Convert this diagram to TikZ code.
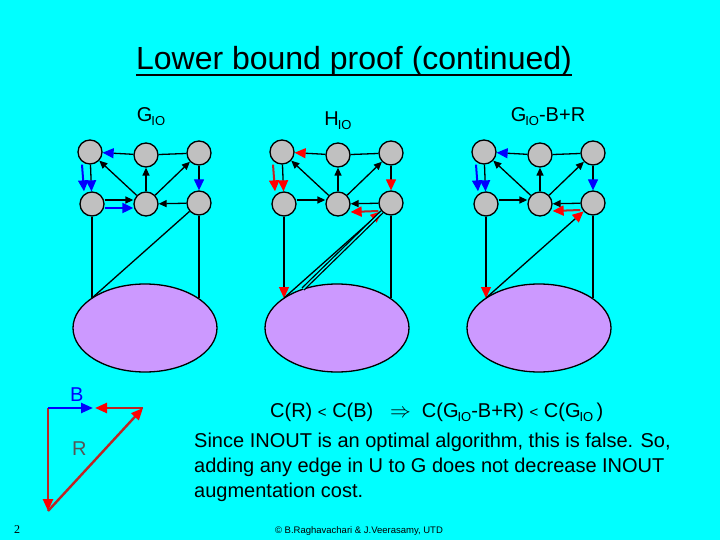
\documentclass[tikz,border=0pt]{standalone}
\usepackage{fontspec}
\setmainfont{Liberation Sans}
\newfontfamily\seriff{Liberation Serif}
\usetikzlibrary{arrows.meta,shapes.geometric,calc}
\definecolor{bgcyan}{RGB}{0,255,255}
\definecolor{nodegray}{RGB}{192,192,192}
\definecolor{lav}{RGB}{204,153,255}
\definecolor{darkred}{RGB}{190,35,35}
\definecolor{arrblue}{RGB}{0,0,255}
\definecolor{arrred}{RGB}{255,0,0}
\definecolor{rlabel}{RGB}{85,85,85}
\newcommand\subIO{\kern-1pt\raisebox{-0.2em}{\fontsize{13}{13}\selectfont IO}}
\tikzset{
 vtx/.style={circle,draw=black,fill=nodegray,line width=1.3pt,minimum size=24pt,inner sep=0pt},
 blob/.style={ellipse,draw=black,fill=lav,line width=1.3pt,minimum width=144pt,minimum height=88pt,inner sep=0pt},
 edge/.style={draw=black,line width=1.3pt},
 barr/.style={edge,-{Triangle[length=8pt,width=7pt]}},
 headblue/.style={edge,-{Triangle[length=11pt,width=10pt,color=arrblue]}},
 headred/.style={edge,-{Triangle[length=11pt,width=10pt,color=arrred]}},
 bluearr/.style={draw=arrblue,line width=2pt,-{Triangle[length=11pt,width=10pt]}},
 redarr/.style={draw=darkred,line width=2pt,-{Triangle[length=11pt,width=10pt,color=arrred]}},
 lblue/.style={draw=arrblue,line width=2.4pt,-{Triangle[length=12pt,width=10pt]}},
 lred/.style={draw=darkred,line width=2.4pt,-{Triangle[length=12pt,width=10pt,color=arrred]}},
 txt/.style={inner sep=0pt,font=\fontsize{20}{25}\selectfont},
}
\newcommand\gbase[2]{%
 \begin{scope}[xshift=#2pt]
  \node[blob] (#1E) at (145,328) {};
  \node[vtx] (#1TL) at (90,152) {};
  \node[vtx] (#1TM) at (146,155) {};
  \node[vtx] (#1TR) at (199,153) {};
  \node[vtx] (#1BL) at (92,204) {};
  \node[vtx] (#1BM) at (146,204) {};
  \node[vtx] (#1BR) at (199,203) {};
  \coordinate (#1eL) at (92,298);
  \coordinate (#1eR) at (199,298);
  \coordinate (#1eD) at (111,289);
 \end{scope}
 \draw[barr] (#1BM) -- (#1TL);
 \draw[barr] (#1BM) -- (#1TM);
 \draw[barr] (#1BM) -- (#1TR);
 \draw[edge] (#1TM) -- (#1TR);
 \draw[barr] ([yshift=4pt]#1BL.east) -- ([yshift=4pt]#1BM.west);
 \draw[barr] (#1BR) -- (#1BM);
 \draw[edge] (#1BR) -- (#1eR);
}
\begin{document}
\begin{tikzpicture}[x=1pt,y=-1pt]
\useasboundingbox (0,0) rectangle (720,540);
\fill[bgcyan] (0,0) rectangle (720,540);

% title
\node[inner sep=0pt,anchor=base,font=\fontsize{32}{36}\selectfont] (title) at (354,70) {Lower bound proof (continued)};
\draw[line width=1.6pt] ([yshift=-5pt]title.base west) -- ([yshift=-5pt]title.base east);

% graph labels
\node[txt,anchor=base] (lab1) at (151,122) {G\subIO};
\node[txt,anchor=base] (lab2) at (338,126) {H\subIO};
\node[txt,anchor=base] (lab3) at (548,122) {G\subIO-B+R};

% graph 1 : G_IO
\gbase{a}{0}
\draw[headblue] (aTM) -- (aTL);
\draw[headblue] (aTL) -- (aBL);
\draw[bluearr] ([xshift=-8pt]aTL.south) -- ([xshift=-8pt]aBL.north);
\draw[headblue] (aTR) -- (aBR);
\draw[bluearr] ([yshift=-4pt]aBL.east) -- ([yshift=-4pt]aBM.west);
\draw[edge] (aBL) -- (aeL);
\draw[edge] (aBR) -- (aeL);

% graph 2 : H_IO
\gbase{b}{192}
\draw[headred] (bTM) -- (bTL);
\draw[headred] (bTL) -- (bBL);
\draw[redarr] ([xshift=-9pt]bTL.south) -- ([xshift=-9pt]bBL.north);
\draw[headred] (bTR) -- (bBR);
\draw[redarr] ([yshift=-8pt]bBR.west) -- ([yshift=-8pt]bBM.east);
\draw[headred] (bBL) -- (beL);
\draw[headred] (beL) -- (bBR);
\draw[edge,double=bgcyan,double distance=1.4pt] (beD) -- (bBR);

% graph 3 : G_IO-B+R
\gbase{c}{394}
\draw[headblue] (cTM) -- (cTL);
\draw[headblue] (cTL) -- (cBL);
\draw[bluearr] ([xshift=-8pt]cTL.south) -- ([xshift=-8pt]cBL.north);
\draw[headblue] (cTR) -- (cBR);
\draw[redarr] ([yshift=-7pt]cBR.west) -- ([yshift=-7pt]cBM.east);
\draw[headred] (cBL) -- (ceL);
\draw[headred] (ceL) -- (cBR);

% legend
\coordinate (lP) at (48,408);
\coordinate (lQ) at (143,408);
\coordinate (lS) at (48,511);
\coordinate (lTb) at (93,408);
\coordinate (lTr) at (95,408);
\draw[lred] (lP) -- (lS);
\draw[lred] (lS) -- (lQ);
\draw[lred] (lQ) -- (lTr);
\draw[lblue] (lP) -- (lTb);
\node[txt,anchor=base west,text=arrblue] (labB) at (70,401) {B};
\node[txt,anchor=base west,text=rlabel] (labR) at (72,455) {R};

% formula and text
\node[txt,anchor=base west] (formula) at (270,417) {C(R) {\fontsize{15}{15}\selectfont<} C(B) \ \ $\Rightarrow$ \ C(G\subIO-B+R) {\fontsize{15}{15}\selectfont<} C(G\subIO\,)};
\node[txt,anchor=base west] (para1) at (194,447) {Since INOUT is an optimal algorithm, this is false. So,};
\node[txt,anchor=base west] (para2) at (194,472) {adding any edge in U to G does not decrease INOUT};
\node[txt,anchor=base west] (para3) at (194,497) {augmentation cost.};

% footer
\node[inner sep=0pt,anchor=base,font=\fontsize{9.5}{10}\selectfont] (foot) at (359,533) {© B.Raghavachari \& J.Veerasamy, UTD};
\node[inner sep=0pt,anchor=base,font=\seriff\fontsize{12}{12}\selectfont] (pnum) at (17,533) {2};
\end{tikzpicture}
\end{document}
